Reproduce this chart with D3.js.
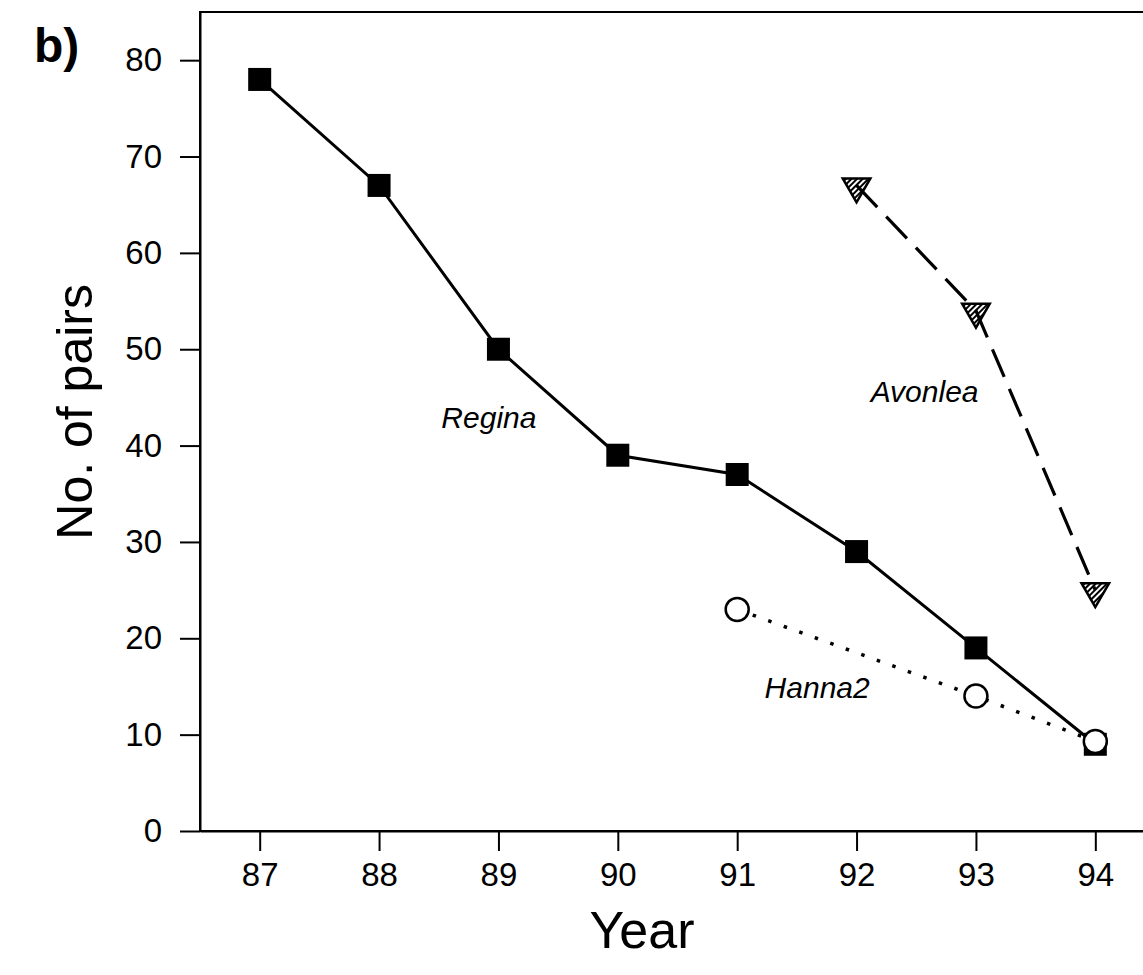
<!DOCTYPE html>
<html>
<head>
<meta charset="utf-8">
<script src="https://cdn.jsdelivr.net/npm/d3@7"></script>
<style>
  body { margin: 0; background: #fff; }
  svg { display: block; }
  text { font-family: "Liberation Sans", Arial, sans-serif; fill: #000; }
</style>
</head>
<body>
<div id="chart"></div>
<script>
const years = [87, 88, 89, 90, 91, 92, 93, 94];
const yTicks = [0, 10, 20, 30, 40, 50, 60, 70, 80];

const regina = [
  { year: 87, pairs: 78 }, { year: 88, pairs: 67 }, { year: 89, pairs: 50 },
  { year: 90, pairs: 39 }, { year: 91, pairs: 37 }, { year: 92, pairs: 29 },
  { year: 93, pairs: 19 }, { year: 94, pairs: 9 }
];
const avonlea = [
  { year: 92, pairs: 67 }, { year: 93, pairs: 54 }, { year: 94, pairs: 25 }
];
const hanna2 = [
  { year: 91, pairs: 23 }, { year: 93, pairs: 14 }, { year: 94, pairs: 9.3 }
];

const seriesLabels = [
  { name: 'Regina', year: 88.92, pairs: 41.8 },
  { name: 'Avonlea', year: 92.57, pairs: 44.5 },
  { name: 'Hanna2', year: 91.67, pairs: 13.8 }
];

const width = 1143;
const height = 975;

const x = d3.scaleLinear().domain([86.5, 94.5]).range([200, 1155]);
const y = d3.scaleLinear().domain([0, 85]).range([831, 12]);

const svg = d3.select('#chart')
  .append('svg')
  .attr('width', width)
  .attr('height', height);

// hatch for the triangles
svg.append('defs')
  .append('pattern')
  .attr('id', 'hatch')
  .attr('patternUnits', 'userSpaceOnUse')
  .attr('width', 4)
  .attr('height', 4)
  .attr('patternTransform', 'rotate(45)')
  .append('rect')
  .attr('width', 2)
  .attr('height', 4)
  .attr('fill', '#000');

// frame
svg.append('rect')
  .attr('x', x(86.5))
  .attr('y', y(85))
  .attr('width', x(94.5) - x(86.5))
  .attr('height', y(0) - y(85))
  .attr('fill', 'none')
  .attr('stroke', '#000')
  .attr('stroke-width', 2);

const xAxis = d3.axisBottom(x).tickValues(years).tickSize(20).tickSizeOuter(0)
  .tickPadding(12).tickFormat(d3.format('d'));
const yAxis = d3.axisLeft(y).tickValues(yTicks).tickSize(20).tickSizeOuter(0).tickPadding(18);

const gx = svg.append('g')
  .attr('transform', 'translate(0,' + y(0) + ')')
  .call(xAxis);
const gy = svg.append('g')
  .attr('transform', 'translate(' + x(86.5) + ',0)')
  .call(yAxis);

[gx, gy].forEach(g => {
  g.select('.domain').attr('stroke-width', 2);
  g.selectAll('.tick line').attr('stroke-width', 2);
  g.selectAll('.tick text')
    .style('font-size', '33px')
    .style('font-family', '"Liberation Sans", Arial, sans-serif');
});

const line = d3.line()
  .x(d => x(d.year))
  .y(d => y(d.pairs));

svg.append('path')
  .datum(regina)
  .attr('d', line)
  .attr('fill', 'none')
  .attr('stroke', '#000')
  .attr('stroke-width', 3);

svg.append('path')
  .datum(avonlea)
  .attr('d', line)
  .attr('fill', 'none')
  .attr('stroke', '#000')
  .attr('stroke-width', 3.2)
  .attr('stroke-dasharray', '30 13');

svg.append('path')
  .datum(hanna2)
  .attr('d', line)
  .attr('fill', 'none')
  .attr('stroke', '#000')
  .attr('stroke-width', 3.5)
  .attr('stroke-dasharray', '3.5 13');

// markers
const sq = 23;
svg.selectAll('.regina')
  .data(regina)
  .enter()
  .append('rect')
  .attr('class', 'regina')
  .attr('x', d => x(d.year) - sq / 2)
  .attr('y', d => y(d.pairs) - sq / 2)
  .attr('width', sq)
  .attr('height', sq)
  .attr('fill', '#000');

svg.selectAll('.hanna')
  .data(hanna2)
  .enter()
  .append('circle')
  .attr('class', 'hanna')
  .attr('cx', d => x(d.year))
  .attr('cy', d => y(d.pairs))
  .attr('r', 11.5)
  .attr('fill', '#fff')
  .attr('stroke', '#000')
  .attr('stroke-width', 2.5);

const tri = d3.symbol().type(d3.symbolTriangle).size(330);
svg.selectAll('.avonlea')
  .data(avonlea)
  .enter()
  .append('path')
  .attr('class', 'avonlea')
  .attr('d', tri)
  .attr('transform', d => 'translate(' + x(d.year) + ',' + (y(d.pairs) + 1) + ') rotate(180)')
  .attr('fill', 'url(#hatch)')
  .attr('stroke', '#000')
  .attr('stroke-width', 2.5);

svg.selectAll('.series-label')
  .data(seriesLabels)
  .enter()
  .append('text')
  .attr('class', 'series-label')
  .attr('x', d => x(d.year))
  .attr('y', d => y(d.pairs))
  .attr('text-anchor', 'middle')
  .style('font-size', '30px')
  .style('font-style', 'italic')
  .text(d => d.name);

// titles
svg.append('text')
  .attr('x', 642)
  .attr('y', 948)
  .attr('text-anchor', 'middle')
  .style('font-size', '52px')
  .text('Year');

svg.append('text')
  .attr('transform', 'translate(92,' + y(43.5) + ') rotate(-90)')
  .attr('text-anchor', 'middle')
  .style('font-size', '50px')
  .text('No. of pairs');

svg.append('text')
  .attr('x', 34)
  .attr('y', 62)
  .style('font-size', '48px')
  .style('font-weight', 'bold')
  .text('b)');
</script>
</body>
</html>
